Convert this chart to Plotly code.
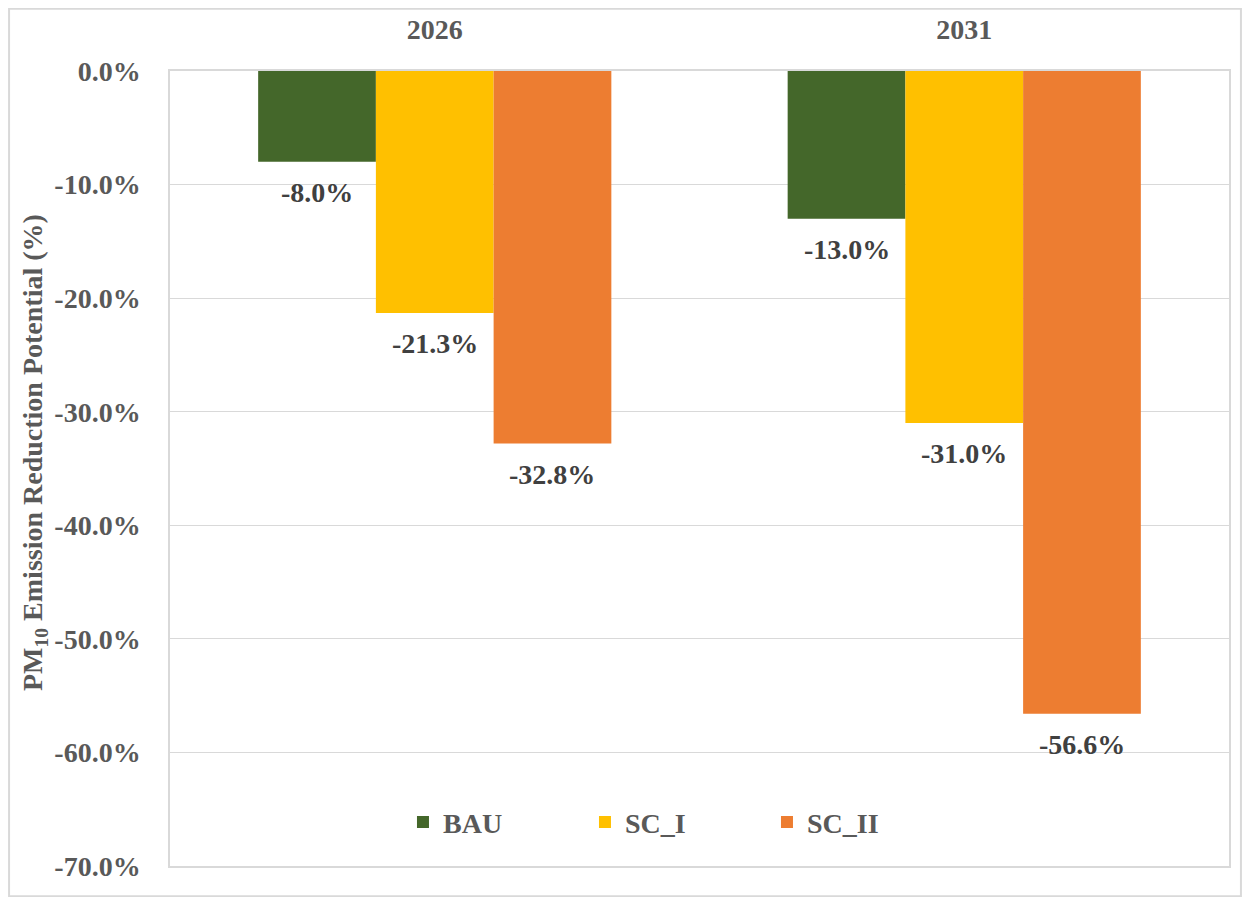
import plotly.graph_objects as go

years = ["2026", "2031"]
series = ["BAU", "SC_I", "SC_II"]
values = {
    "BAU": [-8.0, -13.0],
    "SC_I": [-21.3, -31.0],
    "SC_II": [-32.8, -56.6],
}
colors = {"BAU": "#44672A", "SC_I": "#FFC000", "SC_II": "#ED7D31"}
yticks = [0, -10, -20, -30, -40, -50, -60, -70]
y_title = "PM<sub>10</sub> Emission Reduction Potential (%)"

FONT = "Liberation Serif, Times New Roman, serif"
GRAY = "#595959"
BARGAP = 0.333

fig = go.Figure()
for s in series:
    fig.add_trace(go.Bar(
        x=years, y=values[s], name=s,
        marker=dict(color=colors[s], line=dict(width=0)),
    ))

# page body adds 8px offset
W, H = 1234, 889
L, T = 162, 63
R = W - 1221
B = H - 858
pw, ph = W - L - R, H - T - B

# value labels below each bar end
bw = (1 - BARGAP) / len(series)
annotations = []
for i, s in enumerate(series):
    for j, v in enumerate(values[s]):
        annotations.append(dict(
            x=j + (i - (len(series) - 1) / 2) * bw, y=v, xref="x", yref="y",
            text=f"{v:.1f}%", showarrow=False, yanchor="top", yshift=-13,
            font=dict(family=FONT, size=28, color="#404040", weight="bold"),
        ))

# y-axis title
annotations.append(dict(
    x=(26 - L) / pw, y=1 - (445 - T) / ph, xref="paper", yref="paper",
    text=y_title, textangle=-90, showarrow=False,
    xanchor="center", yanchor="middle",
    font=dict(family=FONT, size=28, color=GRAY, weight="bold"),
))

fig.update_layout(
    width=W, height=H,
    margin=dict(l=L, r=R, t=T, b=B, autoexpand=False),
    paper_bgcolor="white", plot_bgcolor="white",
    barmode="group", bargap=BARGAP, bargroupgap=0,
    font=dict(family=FONT, color=GRAY),
    legend=dict(
        orientation="h", x=0.22, xanchor="left", y=0.055, yanchor="middle",
        font=dict(family=FONT, size=28, color=GRAY, weight="bold"),
        itemwidth=30, entrywidth=137, bgcolor="rgba(0,0,0,0)",
    ),
    xaxis=dict(
        side="top", showgrid=False, ticks="",
        tickfont=dict(family=FONT, size=28, color=GRAY, weight="bold"),
        showline=True, linecolor="#D9D9D9", linewidth=1.5, mirror=True,
        ticklabelstandoff=19,
    ),
    yaxis=dict(
        range=[-70, 0], tickvals=yticks,
        ticktext=[f"{v:.1f}%" for v in yticks],
        tickfont=dict(family=FONT, size=28, color=GRAY, weight="bold"),
        showgrid=True, gridcolor="#D9D9D9", gridwidth=1,
        showline=True, linecolor="#D9D9D9", linewidth=1.5, mirror=True,
        zeroline=False, ticks="", ticklabelstandoff=22,
    ),
    annotations=annotations,
    shapes=[dict(
        type="rect", xref="paper", yref="paper",
        x0=(0 - L) / pw + 0.001, x1=(W - L) / pw - 0.001,
        y0=1 - (H - T) / ph + 0.001, y1=1 - (0 - T) / ph - 0.001,
        line=dict(color="#D9D9D9", width=2), fillcolor="rgba(0,0,0,0)",
        layer="below",
    )],
)

fig.write_html("out.html")
